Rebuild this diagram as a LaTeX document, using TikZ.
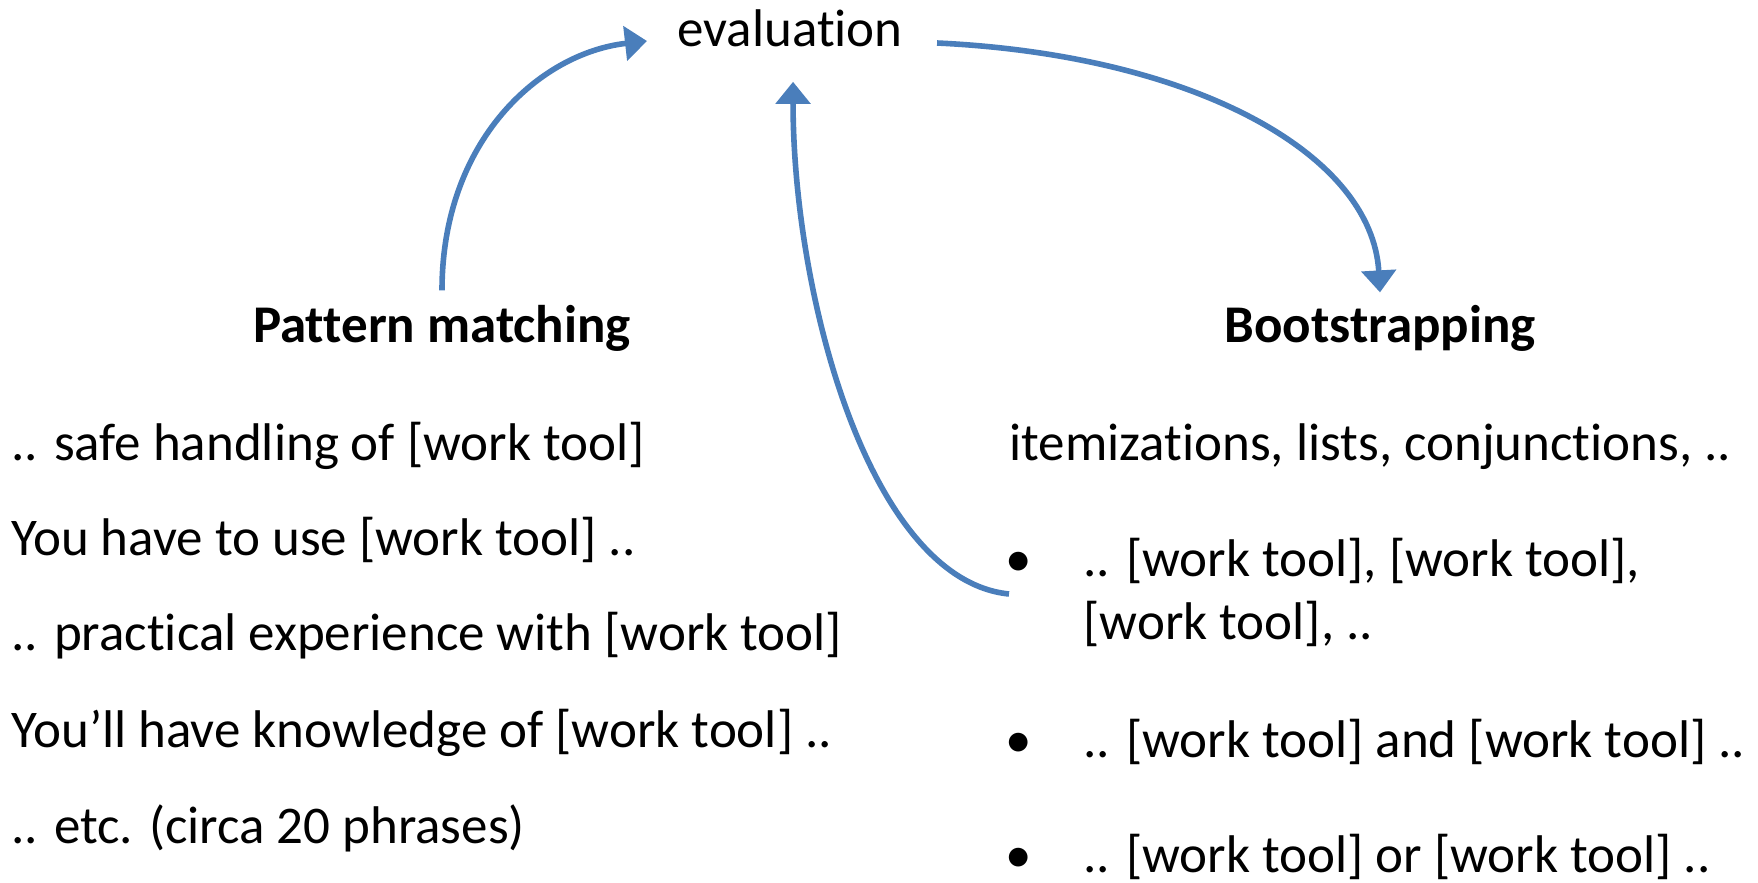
\documentclass[tikz,border=0pt]{standalone}
\usepackage{fontspec}
\setmainfont{Carlito}[Ligatures=NoCommon]
\usetikzlibrary{arrows.meta}
\definecolor{flowblue}{RGB}{74,126,187}
\begin{document}
\begin{tikzpicture}[x=0.5pt,y=-0.5pt,
  txt/.style={inner sep=0pt,font=\fontsize{26.5}{30.3}\selectfont,anchor=base west},
  head/.style={inner sep=0pt,font=\fontsize{26.5}{30.3}\selectfont\bfseries,anchor=base},
  dot/.style={inner sep=0pt,font=\fontsize{26.5}{30.3}\selectfont,anchor=base},
  flow/.style={draw=flowblue,line width=2.8pt,-{Triangle[length=11pt,width=17pt]}}]
\useasboundingbox (0,0) rectangle (1758,883);

% central node and the two headings
\node[txt] (eval) at (677,47) {evaluation};
\node[head] (pm) at (442,342) {Pattern matching};
\node[head] (bs) at (1380,342) {Bootstrapping};

% left column: pattern phrases
\node[txt] (p1) at (11,460) {.. safe handling of [work tool]};
\node[txt] (p2) at (11,555) {You have to use [work tool] ..};
\node[txt] (p3) at (11,650) {.. practical experience with [work tool]};
\node[txt] (p4) at (11,747) {You’ll have knowledge of [work tool] ..};
\node[txt] (p5) at (11,843) {.. etc. (circa 20 phrases)};

% right column: bootstrapping patterns
\node[txt] (b0) at (1009,460) {itemizations, lists, conjunctions, ..};
\node[dot] (d1) at (1019,576) {•};
\node[txt] (b1a) at (1083,576) {.. [work tool], [work tool],};
\node[txt] (b1b) at (1083,639) {[work tool], ..};
\node[dot] (d2) at (1019,757) {•};
\node[txt] (b2) at (1083,757) {.. [work tool] and [work tool] ..};
\node[dot] (d3) at (1019,872) {•};
\node[txt] (b3) at (1083,872) {.. [work tool] or [work tool] ..};

\coordinate (itemfoot) at (1009,594);

% connectors
\draw[flow] ([yshift=7pt]pm.north) .. controls +(0,-150) and +(-107,12) .. ([shift={(-30,-6)}]eval.base west);
\draw[flow] ([shift={(34,-4)}]eval.base east) .. controls +(256,12) and +(-8,-139) .. ([yshift=6pt]bs.north);
\draw[flow] (itemfoot) .. controls +(-139,-14) and +(0,215) .. ([shift={(3,34)}]eval.south);
\end{tikzpicture}
\end{document}
